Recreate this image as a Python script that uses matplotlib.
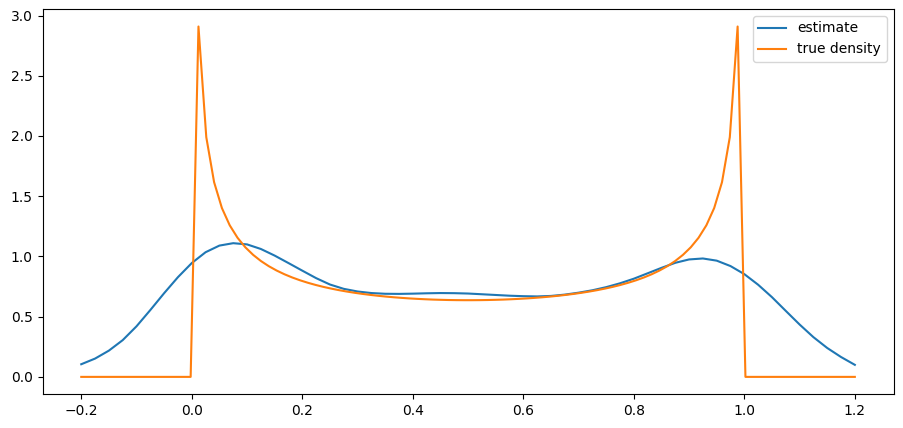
import numpy as np
import matplotlib
matplotlib.use("Agg")
import matplotlib.pyplot as plt

# estimate curve, every 0.025
est_x = np.round(np.arange(-0.2, 1.2001, 0.025), 3)
est_y = [0.105, 0.152, 0.218, 0.305, 0.42, 0.555, 0.695, 0.828, 0.945, 1.035,
         1.09, 1.11, 1.10, 1.062, 1.007, 0.945, 0.882, 0.82, 0.767, 0.731,
         0.709, 0.696, 0.69, 0.689, 0.691, 0.694, 0.696, 0.695, 0.692, 0.686,
         0.68, 0.674, 0.67, 0.668, 0.672, 0.683, 0.699, 0.719, 0.745, 0.777,
         0.815, 0.86, 0.905, 0.947, 0.975, 0.983, 0.965, 0.92, 0.853, 0.765,
         0.662, 0.548, 0.435, 0.33, 0.24, 0.165, 0.10]

# true density on 100 points from -0.2 to 1.2
true_x = np.linspace(-0.2, 1.2, 100)
true_y = [0.0] * 15 + [
    2.9089, 1.9905, 1.6166, 1.4017, 1.2585, 1.1549, 1.0757, 1.0129, 0.9616, 0.9190,
    0.8830, 0.8521, 0.8253, 0.8019, 0.7814, 0.7632, 0.7470, 0.7327, 0.7198, 0.7083,
    0.6980, 0.6888, 0.6806, 0.6732, 0.6667, 0.6609, 0.6559, 0.6514, 0.6477, 0.6445,
    0.6418, 0.6398, 0.6382, 0.6372, 0.6367, 0.6367, 0.6372, 0.6382, 0.6398, 0.6418,
    0.6445, 0.6477, 0.6514, 0.6559, 0.6609, 0.6667, 0.6732, 0.6806, 0.6888, 0.6980,
    0.7083, 0.7198, 0.7327, 0.7470, 0.7632, 0.7814, 0.8019, 0.8253, 0.8521, 0.8830,
    0.9190, 0.9616, 1.0129, 1.0757, 1.1549, 1.2585, 1.4017, 1.6166, 1.9905, 2.9089,
] + [0.0] * 15

fig, ax = plt.subplots(figsize=(9.04, 4.28), dpi=100)
fig.subplots_adjust(left=0.0471, right=0.9884, bottom=0.0785, top=0.979)

ax.plot(est_x, est_y, label="estimate")
ax.plot(true_x, true_y, label="true density")
ax.legend(loc="upper right")

fig.savefig("out.png", dpi=100)
